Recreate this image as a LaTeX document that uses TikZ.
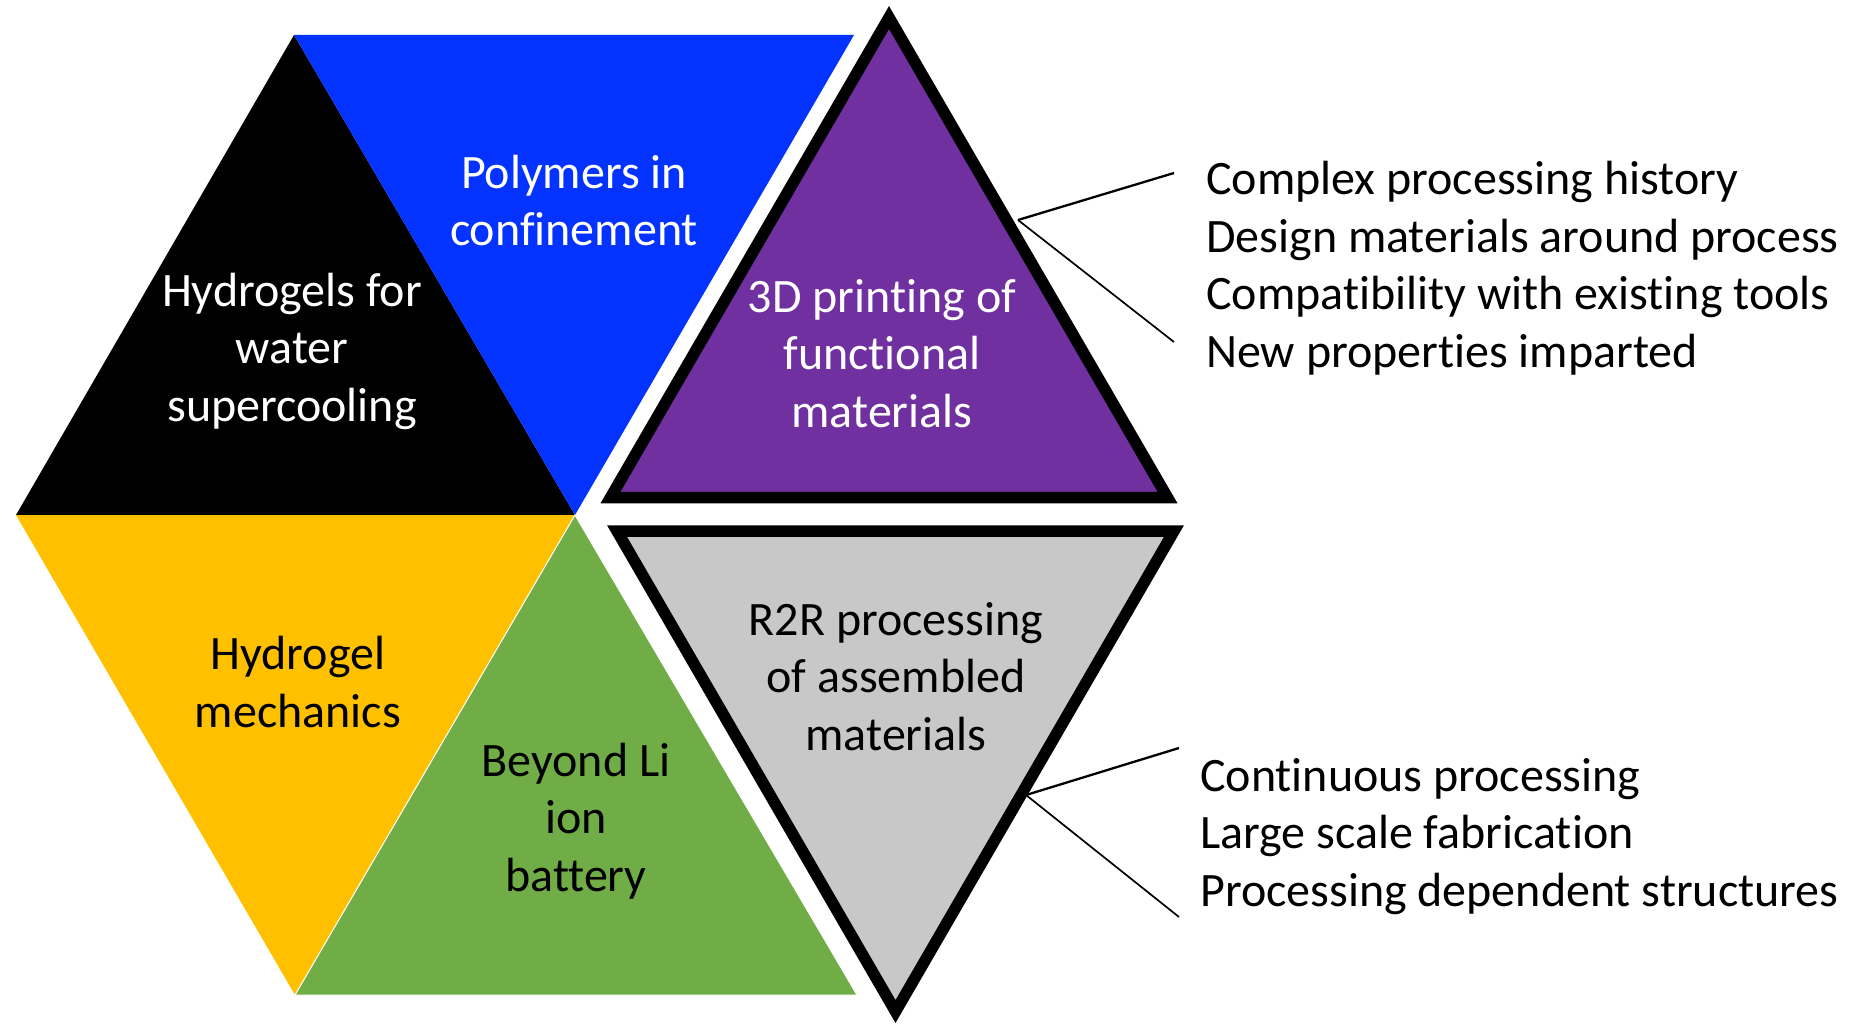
\documentclass[tikz,border=0pt]{standalone}
\usepackage{fontspec}
\setmainfont{Carlito}[Ligatures=NoCommon]
\definecolor{hexblue}{HTML}{0433FF}
\definecolor{hexpurple}{HTML}{7030A0}
\definecolor{hexgold}{HTML}{FFC000}
\definecolor{hexgreen}{HTML}{70AD47}
\definecolor{hexgray}{HTML}{C8C8C8}
\begin{document}
\begin{tikzpicture}[x=1pt,y=-1pt,
  lbl/.style={font=\fontsize{48}{57.5}\selectfont, align=center, inner sep=0pt, anchor=base},
  lst/.style={font=\fontsize{48}{57.5}\selectfont, align=left, inner sep=0pt, anchor=base west},
  framed/.style={draw=black, line width=11.5pt, line join=miter},
  conn/.style={draw=black, line width=2pt}]
\useasboundingbox (0,0) rectangle (1857,1024);
% hexagon vertices
\coordinate (C) at (575,515);
\coordinate (L) at (16,515);
\coordinate (TL) at (294,35);
\coordinate (TR) at (854,35);
\coordinate (BL) at (295,995);
\coordinate (BR) at (857,995);
% hexagon triangles
\fill[black] (TL) -- (L) -- (C) -- cycle;
\fill[hexblue] (TL) -- (TR) -- (C) -- cycle;
\fill[hexgold] (L) -- (C) -- (BL) -- cycle;
\filldraw[fill=hexgreen, draw=white, line width=1pt] (C) -- (BL) -- (BR) -- cycle;
% framed triangles
\coordinate (PA) at (889,17.5);
\coordinate (PL) at (610.5,497.5);
\coordinate (PR) at (1167.5,497.5);
\filldraw[framed, fill=hexpurple] (PA) -- (PL) -- (PR) -- cycle;
\coordinate (GL) at (617,531);
\coordinate (GR) at (1174,531);
\coordinate (GB) at (895.5,1011.5);
\filldraw[framed, fill=hexgray] (GL) -- (GR) -- (GB) -- cycle;
% labels (anchored at the baseline of the last line)
\node[lbl, text=white] (poly) at (574,246) {Polymers in\\confinement};
\node[lbl, text=white] (hydro) at (292,421) {Hydrogels for\\water\\supercooling};
\node[lbl, text=white] (print) at (882,427) {3D printing of\\functional\\materials};
\node[lbl, text=black] (mech) at (298,727) {Hydrogel\\mechanics};
\node[lbl, text=black] (batt) at (576,891) {Beyond Li\\ion\\battery};
\node[lbl, text=black] (r2r) at (896,750) {R2R processing\\of assembled\\materials};
% lists
\node[lst] (list1) at (1206,367) {Complex processing history\\Design materials around process\\Compatibility with existing tools\\New properties imparted};
\node[lst] (list2) at (1200,906) {Continuous processing\\Large scale fabrication\\Processing dependent structures};
% connectors
\coordinate (j1) at (1018,220);
\coordinate (j1a) at (1174,173);
\coordinate (j1b) at (1174,342);
\draw[conn, line width=2.3pt] (j1) -- (j1a);
\draw[conn, line width=1.7pt] (j1) -- (j1b);
\coordinate (j2) at (1026,795);
\coordinate (j2a) at (1179,748);
\coordinate (j2b) at (1179,917);
\draw[conn, line width=2.3pt] (j2) -- (j2a);
\draw[conn, line width=1.7pt] (j2) -- (j2b);
\end{tikzpicture}
\end{document}
